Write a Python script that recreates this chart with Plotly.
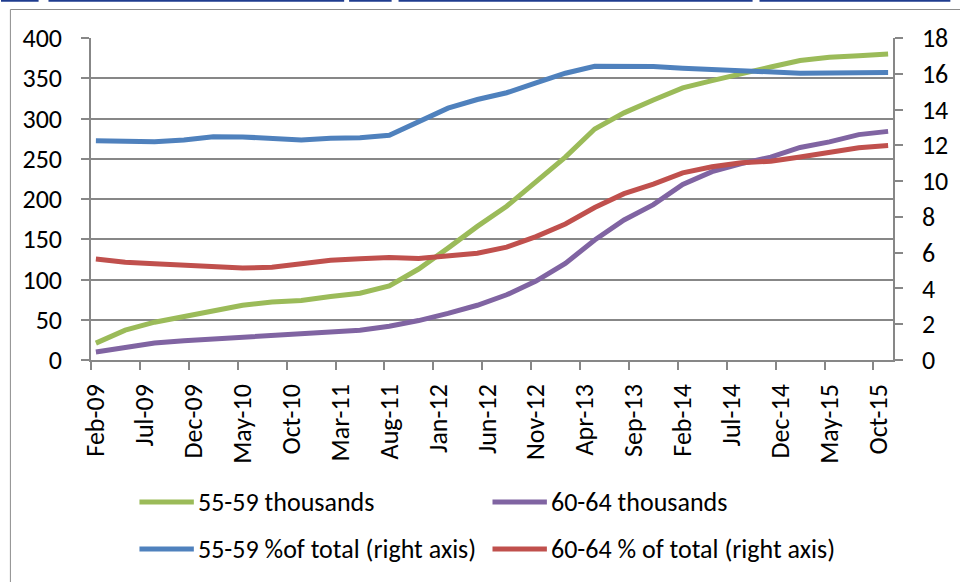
import plotly.graph_objects as go

# ---------------- data (quarterly readings) ----------------
periods = ["2009-02", "2009-05", "2009-08", "2009-11", "2010-02", "2010-05", "2010-08",
           "2010-11", "2011-02", "2011-05", "2011-08", "2011-11", "2012-02", "2012-05",
           "2012-08", "2012-11", "2013-02", "2013-05", "2013-08", "2013-11", "2014-02",
           "2014-05", "2014-08", "2014-11", "2015-02", "2015-05", "2015-08", "2015-11"]

tick_labels = ["Feb-09", "Jul-09", "Dec-09", "May-10", "Oct-10", "Mar-11", "Aug-11",
               "Jan-12", "Jun-12", "Nov-12", "Apr-13", "Sep-13", "Feb-14", "Jul-14",
               "Dec-14", "May-15", "Oct-15"]

thousands_55_59 = [21, 37, 47, 54, 62, 68, 72, 74, 79, 83, 92, 113, 139, 166, 191, 221,
                   252, 287, 307, 323, 338, 347, 356, 364, 372, 376, 378, 380]
thousands_60_64 = [10, 16, 21, 24, 26, 28, 30, 32, 35, 37, 42, 49, 58, 68, 81, 98,
                   120, 149, 174, 193, 218, 234, 244, 252, 264, 271, 280, 284]
pct_55_59 = [12.25, 12.23, 12.2, 12.3, 12.48, 12.47, 12.36, 12.3, 12.4, 12.43, 12.56,
             13.3, 14.08, 14.56, 14.94, 15.49, 16.03, 16.42, 16.42, 16.4, 16.31, 16.23,
             16.14, 16.07, 16.03, 16.05, 16.05, 16.07]
pct_60_64 = [5.64, 5.47, 5.38, 5.31, 5.25, 5.14, 5.19, 5.36, 5.57, 5.66, 5.73, 5.68,
             5.79, 5.97, 6.31, 6.9, 7.6, 8.52, 9.3, 9.83, 10.46, 10.8, 11.02, 11.11,
             11.35, 11.6, 11.87, 11.99]

series_names = ["55-59 thousands", "60-64 thousands",
                "55-59 %of total (right axis)", "60-64 % of total (right axis)"]
colors = ["#9BBB59", "#8064A2", "#4F81BD", "#C0504D"]


def month_index(p):
    y, m = map(int, p.split("-"))
    return (y - 2009) * 12 + (m - 2)


x = [month_index(p) for p in periods]
tick_vals = [5 * i for i in range(len(tick_labels))]

FONT = "Calibri, Carlito, Lato, sans-serif"
FS = 26
GRID = "#878787"

# plot area in pixels
L, R, T, B = 91, 902, 38, 360
W, H = 960, 582


def px_x(px):
    return (px - L) / (R - L)


def px_y(py):
    return (B - py) / (B - T)


fig = go.Figure()
series = [(thousands_55_59, "y"), (thousands_60_64, "y"), (pct_55_59, "y2"), (pct_60_64, "y2")]
for (vals, ax), name, col in zip(series, series_names, colors):
    fig.add_trace(go.Scatter(x=x, y=vals, name=name, yaxis=ax, mode="lines",
                             line=dict(color=col, width=5), showlegend=False))

shapes = []
annotations = []
# manual legend
legend_pos = [(140, 502), (497, 502), (140, 549), (497, 549)]
for (lx, ly), name, col in zip(legend_pos, series_names, colors):
    shapes.append(dict(type="line", xref="paper", yref="paper",
                       x0=px_x(lx), x1=px_x(lx + 55), y0=px_y(ly), y1=px_y(ly),
                       line=dict(color=col, width=5)))
    annotations.append(dict(xref="paper", yref="paper", x=px_x(lx + 57), y=px_y(ly),
                            text=name, showarrow=False, xanchor="left", yanchor="middle",
                            font=dict(family=FONT, size=FS, color="black")))

# outer chart border
shapes.append(dict(type="rect", xref="paper", yref="paper",
                   x0=px_x(9.5), x1=px_x(990), y0=px_y(9.5), y1=px_y(620),
                   line=dict(color="#8C8C8C", width=1), layer="below"))
# document rule fragments along the top edge
for a, b in [(0, 38), (48, 347), (352, 395), (402, 760), (767, 960)]:
    shapes.append(dict(type="line", xref="paper", yref="paper",
                       x0=px_x(a), x1=px_x(b), y0=px_y(0.8), y1=px_y(0.8),
                       line=dict(color="#1F3C8F", width=2)))

fig.update_layout(
    width=W, height=H,
    margin=dict(l=L, r=W - R, t=T, b=H - B),
    paper_bgcolor="white", plot_bgcolor="white",
    font=dict(family=FONT, size=FS, color="black"),
    shapes=shapes, annotations=annotations,
    xaxis=dict(range=[-0.5, 81.5], tickmode="array", tickvals=tick_vals, ticktext=tick_labels,
               tickangle=-90, ticks="", showgrid=False, zeroline=False,
               showline=True, linecolor=GRID, linewidth=1.5,
               ticklabelstandoff=12,
               minor=dict(tickmode="linear", tick0=-0.5, dtick=5, ticks="outside",
                          ticklen=8, tickcolor=GRID, tickwidth=1.5, showgrid=False),
               tickfont=dict(family=FONT, size=FS, color="black")),
    yaxis=dict(range=[0, 400], dtick=50, showgrid=True, gridcolor=GRID, gridwidth=1.5,
               zeroline=False, showline=True, linecolor=GRID, linewidth=1.5,
               ticks="outside", ticklen=8, tickcolor=GRID, tickwidth=1.5,
               ticklabelstandoff=14,
               tickfont=dict(family=FONT, size=FS, color="black")),
    yaxis2=dict(range=[0, 18], dtick=2, overlaying="y", side="right", showgrid=False,
                zeroline=False, showline=True, linecolor=GRID, linewidth=1.5,
                ticks="outside", ticklen=8, tickcolor=GRID, tickwidth=1.5,
                ticklabelstandoff=14,
                tickfont=dict(family=FONT, size=FS, color="black")),
)

fig.write_html("out.html")
